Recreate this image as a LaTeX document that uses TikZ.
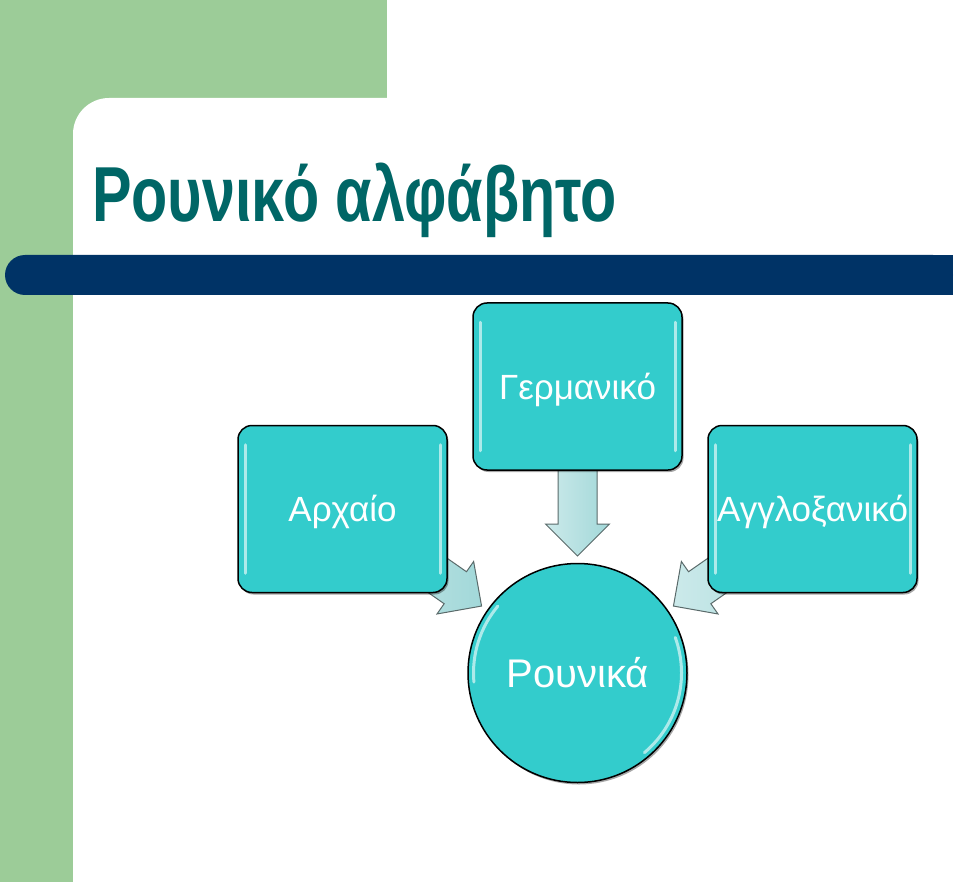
\documentclass[tikz,border=0pt]{standalone}
\usepackage{fontspec}
\setmainfont{Liberation Sans}
\newfontfamily\titlefont[FakeStretch=0.76]{Liberation Sans}
\usetikzlibrary{calc,shadows}
\definecolor{slidegreen}{HTML}{9CCC98}
\definecolor{barblue}{HTML}{003366}
\definecolor{titleteal}{HTML}{006666}
\definecolor{turq}{HTML}{33CCCC}
\definecolor{arrowfill}{HTML}{A2D8D9}
\definecolor{arrowedge}{HTML}{5A6A6A}
\pgfdeclarelayer{slidebg}
\pgfdeclarelayer{arrowlayer}
\pgfsetlayers{slidebg,arrowlayer,main}
\newcommand{\blockarr}[2]{%
  \path ($(#2)!32pt!(#1)$) coordinate (ab);
  \draw[blockarrow] ($(#1)!19.5pt!90:(#2)$) -- ($(ab)!19.5pt!90:(#2)$) -- ($(ab)!32pt!90:(#2)$) -- (#2) -- ($(ab)!32pt!-90:(#2)$) -- ($(ab)!19.5pt!-90:(#2)$) -- ($(#1)!19.5pt!-90:(#2)$) -- cycle;}
\newcommand{\boxgloss}[1]{%
  \draw[gloss] ($(#1.north west)+(8,20)$) -- ($(#1.south west)+(8,-20)$);
  \draw[gloss] ($(#1.north east)+(-7,20)$) -- ($(#1.south east)+(-7,-20)$);}
\begin{document}
\begin{tikzpicture}[x=1pt,y=-1pt,
  box/.style={draw=black, line width=1.5pt, fill=turq, rounded corners=14pt,
    minimum width=209pt, minimum height=167pt, text=white, inner sep=0pt,
    font=\fontsize{35}{40}\selectfont, text height=25pt, text depth=0pt,
    drop shadow={shadow xshift=1.5pt, shadow yshift=-2pt, opacity=0.35, fill=black}},
  hub/.style={circle, draw=black, line width=1.5pt, fill=turq, minimum size=219pt,
    text=white, inner sep=0pt, font=\fontsize{40}{46}\selectfont, text height=29pt, text depth=0pt,
    drop shadow={shadow xshift=1.5pt, shadow yshift=-2pt, opacity=0.35, fill=black}},
  blockarrow/.style={left color=arrowfill!55!white, right color=arrowfill, draw=arrowedge, line width=1pt, line join=miter},
  gloss/.style={draw=white, opacity=0.6, line width=3pt, line cap=round}]
\useasboundingbox (0,0) rectangle (960,882);
\begin{pgfonlayer}{slidebg}
  \fill[slidegreen] (0,0) rectangle (960,882);
  \fill[white] (387,0) rectangle (960,98);
  \fill[white] (73,882) -- (73,134) arc[start angle=180, end angle=270, radius=36] -- (960,98) -- (960,882) -- cycle;
  \fill[barblue, rounded corners=20pt] (5,255) rectangle (953,295);
  \fill[barblue] (900,255) rectangle (953,295);
\end{pgfonlayer}
\node[anchor=base west, text=titleteal, inner sep=0pt,
  font=\titlefont\bfseries\fontsize{78}{80}\selectfont] (title) at (92,222) {Ρουνικό αλφάβητο};
\node[box] (germ) at (577.5,386.5) {Γερμανικό};
\node[box] (arch) at (342.5,509) {Αρχαίο};
\node[box] (anglo) at (812.5,509) {Αγγλοξανικό};
\node[hub] (runic) at (577.5,673) {Ρουνικά};
\boxgloss{germ}
\boxgloss{arch}
\boxgloss{anglo}
\draw[gloss] (runic.center) ++(175:104) arc[start angle=175, end angle=220, radius=104];
\draw[gloss] (runic.center) ++(-20:104) arc[start angle=-20, end angle=50, radius=104];
\coordinate (tipG) at ($(runic.center)!117pt!(germ.center)$);
\coordinate (tipA) at ($(runic.center)!117pt!(arch.center)$);
\coordinate (tipE) at ($(runic.center)!117pt!(anglo.center)$);
\begin{pgfonlayer}{arrowlayer}
  \blockarr{germ.center}{tipG}
  \blockarr{arch.center}{tipA}
  \blockarr{anglo.center}{tipE}
\end{pgfonlayer}
\end{tikzpicture}
\end{document}
